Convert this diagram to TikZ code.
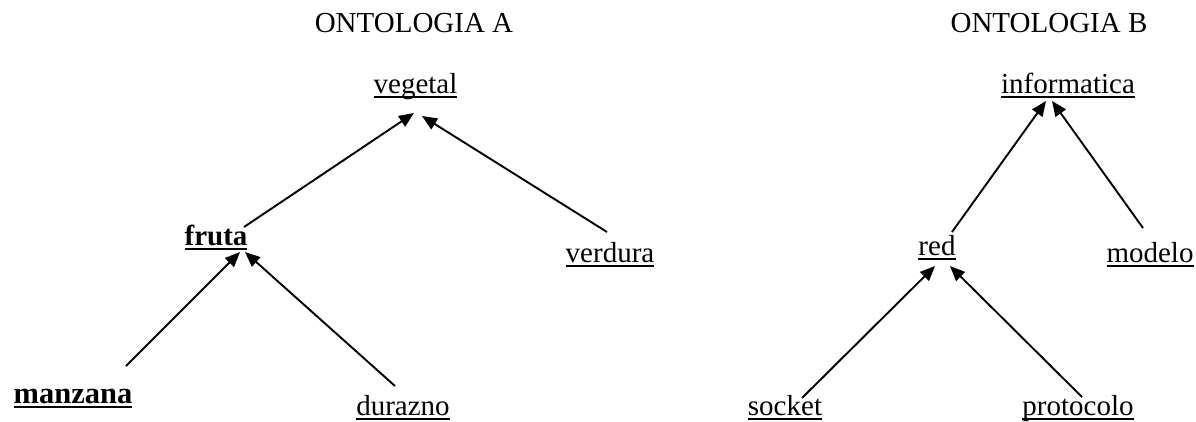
\documentclass[tikz,border=0pt]{standalone}
\usepackage{fontspec}
\setmainfont{Liberation Serif}
\usetikzlibrary{arrows.meta,calc}
\newcommand\ulword[1]{\setbox0\hbox{#1}\rlap{\rule[-5pt]{\wd0}{2pt}}\box0}
\begin{document}
\begin{tikzpicture}[x=1pt,y=-1pt,
  lbl/.style={anchor=base,inner sep=0pt,font=\fontsize{29}{34}\selectfont},
  conn/.style={line width=1.9pt,-{Triangle[length=15pt,width=12.5pt]}}]
\useasboundingbox (0,0) rectangle (1196,421);
% titles
\node[lbl] (titA) at (414,32) {ONTOLOGIA A};
\node[lbl] (titB) at (1049,32) {ONTOLOGIA B};
% ontology A
\node[lbl] (vegetal) at (415.5,93) {\ulword{vegetal}};
\node[lbl] (fruta) at (216,245) {\ulword{\bfseries fruta}};
\node[lbl] (verdura) at (610,262) {\ulword{verdura}};
\node[lbl,font=\fontsize{30.5}{36}\selectfont] (manzana) at (73,403) {\ulword{\bfseries manzana}};
\node[lbl] (durazno) at (403,415) {\ulword{durazno}};
% ontology B
\node[lbl] (informatica) at (1068,93) {\ulword{informatica}};
\node[lbl] (red) at (937,255) {\ulword{red}};
\node[lbl] (modelo) at (1150,262) {\ulword{modelo}};
\node[lbl] (socket) at (785,415) {\ulword{socket}};
\node[lbl] (protocolo) at (1078,415) {\ulword{protocolo}};
% connectors
\draw[conn] ($(fruta.base)+(28,-18)$) -- ($(vegetal.base)+(-1.5,20)$);
\draw[conn] ($(verdura.base)+(-3,-30)$) -- ($(vegetal.base)+(6.5,23)$);
\draw[conn] ($(manzana.base)+(53,-37)$) -- ($(fruta.base)+(24,7)$);
\draw[conn] ($(durazno.base)+(-8,-29)$) -- ($(fruta.base)+(29,7)$);
\draw[conn] ($(red.base)+(15,-23)$) -- ($(informatica.base)+(-22,8)$);
\draw[conn] ($(modelo.base)+(-7,-34)$) -- ($(informatica.base)+(-16,8)$);
\draw[conn] ($(socket.base)+(17,-17)$) -- ($(red.base)+(-2,11)$);
\draw[conn] ($(protocolo.base)+(4,-18)$) -- ($(red.base)+(13,11)$);
\end{tikzpicture}
\end{document}
